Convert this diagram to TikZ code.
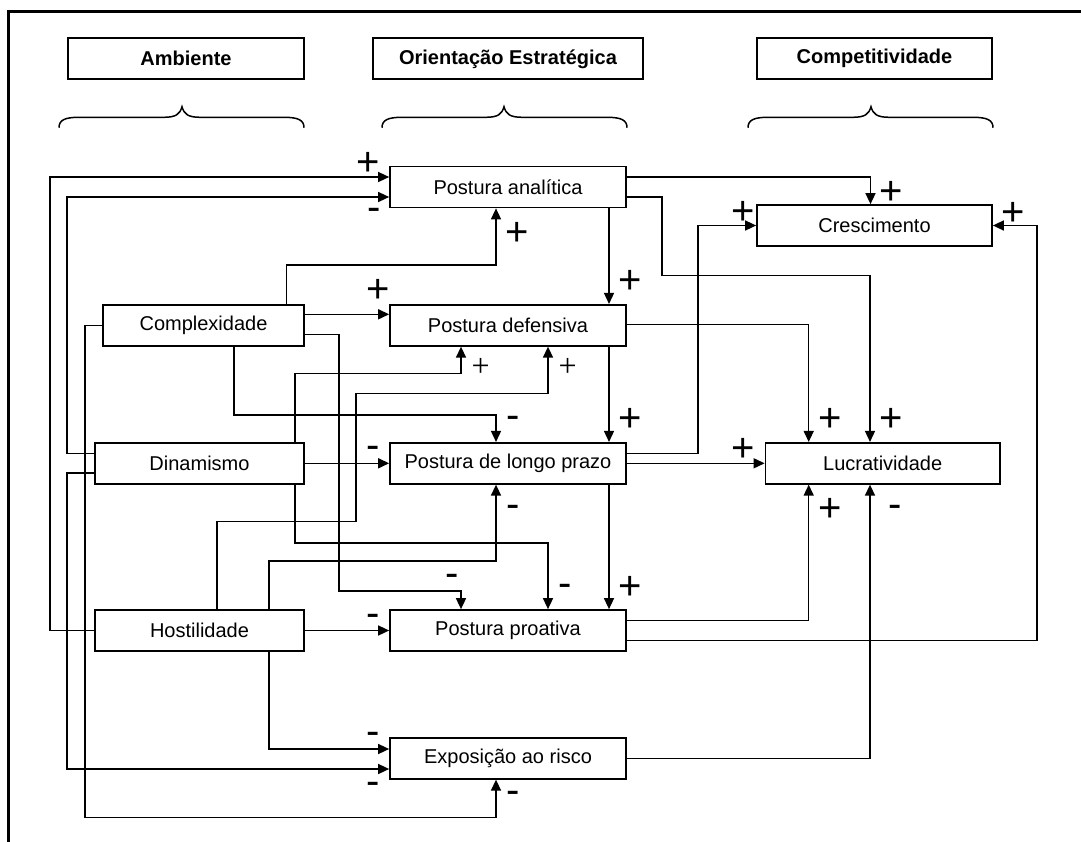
\documentclass[tikz,border=0pt]{standalone}
\usepackage{fontspec}
\setmainfont{Liberation Sans}
\newfontfamily\serifsign{Liberation Serif}
\usetikzlibrary{arrows.meta}

\begin{document}
\begin{tikzpicture}[x=1pt, y=-1pt, font=\fontsize{20}{24}\selectfont]
		\tikzstyle{Node} = [rectangle, minimum width=236pt, minimum height=41pt, inner sep=0pt, text centered, draw=black, line width=1.7pt]
		\tikzstyle{EnvNode} = [Node, minimum width=209pt]
		\tikzstyle{Head} = [Node, font=\fontsize{20}{24}\selectfont\bfseries]
		\tikzstyle{Brace} = [line width=1.5pt]
		\tikzstyle{arrow} = [line width=1.5pt, ->, >={Triangle[length=11pt, width=10pt]}]
		\tikzstyle{Plus} = [inner sep=0pt, font=\fontsize{40}{40}\selectfont, yshift=-2pt]
		\tikzstyle{Minus} = [inner sep=0pt, font=\fontsize{40}{40}\selectfont, yshift=-4pt]
		\tikzstyle{SmallPlus} = [inner sep=0pt, font=\serifsign\fontsize{32}{32}\selectfont, yshift=-2pt]
		
		\useasboundingbox (0,0) rectangle (1081,842);
		\draw[line width=3pt] (1081,12) -- (8,12) -- (8,842);
		
		\node (amb) [Head] at (186,58.8) {Ambiente};
		\node (ori) [Head, minimum width=270pt] at (508,58.8) {Orientação Estratégica};
		\node (comp) [Head, minimum width=235pt] at (874.5,58.8) {Competitividade};
		
		\draw[Brace] (59,127.7) .. controls (59,120) and (65,117.3) .. (79,117.3) -- (164,117.3) .. controls (176,117.3) and (180,114) .. (182,106.7) .. controls (184,114) and (188,117.3) .. (200,117.3) -- (284,117.3) .. controls (298,117.3) and (304,120) .. (304,127.7);
		\draw[Brace] (382,127.7) .. controls (382,120) and (388,117.3) .. (402,117.3) -- (486,117.3) .. controls (498,117.3) and (502,114) .. (504,106.7) .. controls (506,114) and (510,117.3) .. (522,117.3) -- (607,117.3) .. controls (621,117.3) and (627,120) .. (627,127.7);
		\draw[Brace] (748,127.7) .. controls (748,120) and (754,117.3) .. (768,117.3) -- (853,117.3) .. controls (865,117.3) and (869,114) .. (871,106.7) .. controls (873,114) and (877,117.3) .. (889,117.3) -- (973,117.3) .. controls (987,117.3) and (993,120) .. (993,127.7);
		
		\node (anal) [Node] at (508,187) {Postura analítica};
		\node (def) [Node] at (508,325.3) {Postura defensiva};
		\node (longo) [Node] at (508,463.3) {Postura de longo prazo};
		\node (proa) [Node] at (508,630.5) {Postura proativa};
		\node (risco) [Node] at (508,758.3) {Exposição ao risco};
		\node (cplx) [EnvNode, minimum width=201pt] at (203.5,325.3) {Complexidade};
		\node (din) [EnvNode] at (199.5,463.3) {Dinamismo};
		\node (host) [EnvNode] at (199.5,630.5) {Hostilidade};
		\node (cresc) [Node, minimum width=235pt] at (874.5,225.5) {Crescimento};
		\node (lucr) [Node, minimum width=234.5pt] at (882.7,463.3) {Lucratividade};
		
		\draw[arrow] (host.west) -- ++(-44,0) |- ([yshift=10pt]anal.west);
		\draw[arrow] ([yshift=10pt]din.west) -- ++(-27,0) |- ([yshift=-10pt]anal.west);
		\draw[arrow] ([xshift=83pt]cplx.north) -- ++(0,-39.1) -| ([xshift=-12pt]anal.south);
		\draw[arrow] ([yshift=10pt]anal.east) -| ([xshift=-4pt]cresc.north);
		\draw[arrow] ([yshift=-10pt]anal.east) -- ++(35,0) -- ++(0,78.3) -| ([xshift=-12.7pt]lucr.north);
		\draw[arrow] ([xshift=101pt]anal.south) -- ([xshift=101pt]def.north);
		\draw[arrow] ([yshift=11pt]cplx.east) -- ([yshift=11pt]def.west);
		\draw[arrow] ([yshift=-9pt]cplx.east) -- ++(34,0) -- ++(0,256.7) -| ([xshift=-47pt]proa.north);
		\draw[arrow] (cplx.west) -- ++(-17,0) -- ++(0,492.2) -| ([xshift=-12pt]risco.south);
		\draw[arrow] ([xshift=30.5pt]cplx.south) -- ++(0,68.2) -| ([xshift=-12pt]longo.north);
		\draw[arrow] (din.east) -- (longo.west);
		\draw[arrow] ([yshift=-9.5pt]din.west) -- ++(-27,0) |- ([yshift=-10.7pt]risco.west);
		\draw[arrow] ([xshift=95.5pt]din.north) -- ++(0,-68.5) -| ([xshift=-47pt]def.south);
		\draw[arrow] ([xshift=95.5pt]din.south) -- ++(0,58.2) -| ([xshift=40pt]proa.north);
		\draw[arrow] ([xshift=17.5pt]host.north) -- ++(0,-87.7) -- ++(139,0) -- ++(0,-128) -| ([xshift=40pt]def.south);
		\draw[arrow] ([xshift=69.5pt]host.north) -- ++(0,-48.3) -| ([xshift=-12pt]longo.south);
		\draw[arrow] (host.east) -- (proa.west);
		\draw[arrow] ([xshift=69.5pt]host.south) |- ([yshift=9.3pt]risco.west);
		\draw[arrow] ([xshift=101pt]def.south) -- ([xshift=101pt]longo.north);
		\draw[arrow] ([xshift=101pt]longo.south) -- ([xshift=101pt]proa.north);
		\draw[arrow] ([yshift=1pt]def.east) -| ([xshift=-74pt]lucr.north);
		\draw[arrow] ([yshift=10pt]longo.east) -- ++(71,0) |- (cresc.west);
		\draw[arrow] (longo.east) -- (lucr.west);
		\draw[arrow] ([yshift=10pt]proa.east) -| ([xshift=-74pt]lucr.south);
		\draw[arrow] ([yshift=-10pt]proa.east) -- ++(410,0) |- (cresc.east);
		\draw[arrow] (risco.east) -| ([xshift=-12.7pt]lucr.south);
		
		\node (1) [Plus] at (368,161.7) {+};
		\node (2) [Minus] at (374,210.7) {-};
		\node (3) [Plus] at (517,231.7) {+};
		\node (4) [Plus] at (891,190.7) {+};
		\node (5) [Plus] at (891,417.7) {+};
		\node (6) [Plus] at (630,280) {+};
		\node (7) [Plus] at (378,289) {+};
		\node (8) [Minus] at (451.7,576.7) {-};
		\node (9) [Minus] at (512.7,793.3) {-};
		\node (10) [Minus] at (512.7,418.3) {-};
		\node (11) [Minus] at (372.7,448.3) {-};
		\node (12) [Minus] at (372.7,784) {-};
		\node (13) [SmallPlus] at (480.7,365) {+};
		\node (14) [Minus] at (565,586.7) {-};
		\node (15) [SmallPlus] at (567.7,365) {+};
		\node (16) [Minus] at (512.7,507.7) {-};
		\node (17) [Minus] at (372.7,616.7) {-};
		\node (18) [Minus] at (372.7,734) {-};
		\node (19) [Plus] at (630,417.7) {+};
		\node (20) [Plus] at (630,586) {+};
		\node (21) [Plus] at (830,417.7) {+};
		\node (22) [Plus] at (743,210.7) {+};
		\node (23) [Plus] at (743,448.3) {+};
		\node (24) [Plus] at (830,507.7) {+};
		\node (25) [Plus] at (1013,211.7) {+};
		\node (26) [Minus] at (895,507.7) {-};
\end{tikzpicture}
\end{document}
